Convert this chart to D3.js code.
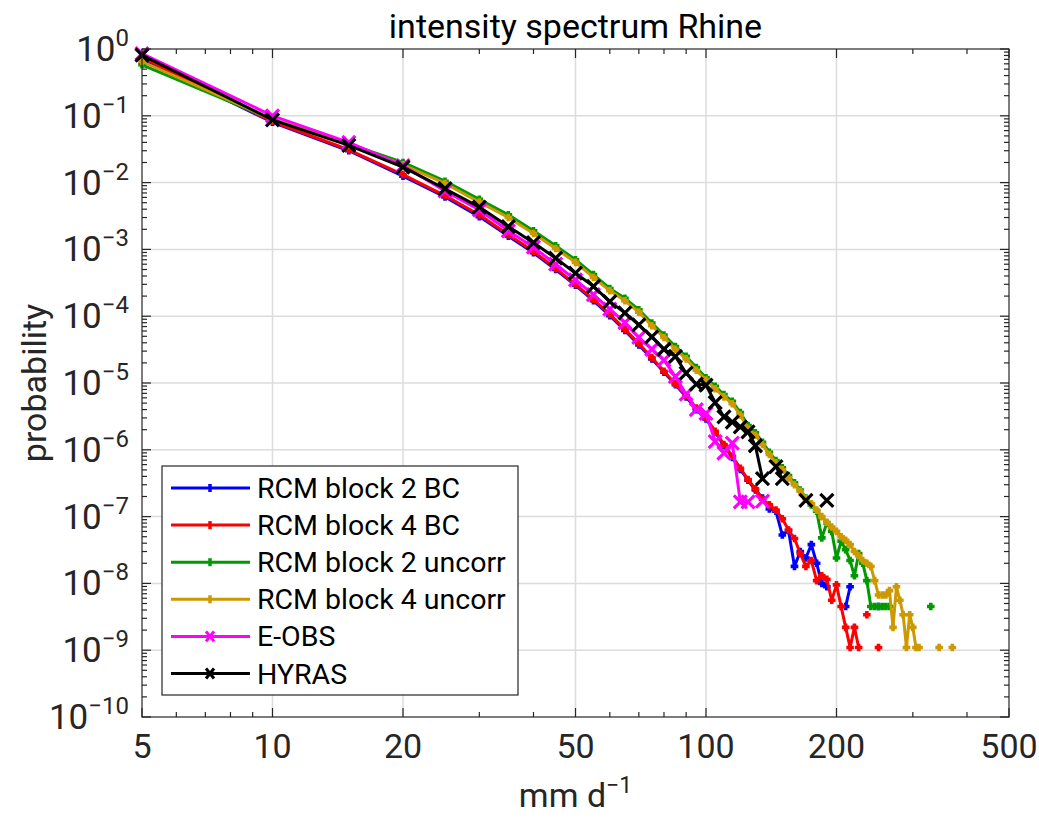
<!DOCTYPE html>
<html>
<head>
<meta charset="utf-8">
<script src="https://d3js.org/d3.v7.min.js"></script>
<style>
  body { margin: 0; background: #fff; }
  text { font-family: Roboto, sans-serif; fill: #262626; }
  .grid line { stroke: #dcdcdc; stroke-width: 1.5; }
</style>
</head>
<body>
<svg width="1039" height="818"></svg>
<script>
// bin centres (mm/d)
const bins = [5,10,15,20,25,30,35,40,45,50,55,60,65,70,75,80,85,90,95,100,
  105,110,115,120,125,130,135,140,145,150,155,160,165,170,175,180,185,190,195,200,
  205,210,215,220,225,230,235,240,245,250,255,260,265,270,275,280,285,290,295,300,
  305,310,315,320,325,330,335,340,345,350,355,360,365,370];

// probabilities per bin, null = no event in bin
const rcmBlock2BC = [0.72,0.080,0.030,0.0125,0.0061,0.0031,0.00158,0.00089,0.00050,0.00029,
  1.71e-4,1.02e-4,6.1e-5,3.7e-5,2.3e-5,1.45e-5,9.4e-6,6.2e-6,4.0e-6,2.9e-6,
  1.85e-6,1.15e-6,7.7e-7,5.1e-7,3.5e-7,2.5e-7,1.9e-7,1.3e-7,1.2e-7,5.3e-8,
  6.2e-8,1.8e-8,3.0e-8,2.4e-8,3.8e-8,2.0e-8,1.0e-8,8.9e-9,null,null,
  null,4.5e-9,8.9e-9,null,null,null,null,null,null,4.5e-9];

const rcmBlock4BC = [0.75,0.082,0.031,0.0132,0.0064,0.0033,0.00166,0.00094,0.00052,0.00030,
  1.79e-4,1.07e-4,6.4e-5,3.9e-5,2.4e-5,1.5e-5,9.7e-6,6.5e-6,4.2e-6,3.0e-6,
  1.9e-6,1.2e-6,8.0e-7,5.3e-7,3.6e-7,2.6e-7,1.8e-7,1.5e-7,1.25e-7,9.3e-8,
  6.3e-8,4.7e-8,2.8e-8,1.8e-8,2.2e-8,1.1e-8,1.3e-8,1.15e-8,5.6e-9,9.5e-9,
  4.5e-9,2.2e-9,1.1e-9,2.2e-9,1.1e-9,null,3.4e-9,null,null,1.1e-9];

const rcmBlock2Uncorr = [0.58,0.088,0.038,0.020,0.0105,0.0056,0.0033,0.0019,0.00113,0.00070,
  4.2e-4,2.6e-4,1.85e-4,1.25e-4,7.9e-5,5.2e-5,3.5e-5,2.5e-5,1.7e-5,1.2e-5,
  8.9e-6,6.7e-6,5.3e-6,3.6e-6,2.3e-6,1.8e-6,1.3e-6,9.2e-7,6.9e-7,5.4e-7,
  4.1e-7,3.2e-7,2.5e-7,1.9e-7,1.5e-7,1.2e-7,4.8e-8,8.0e-8,6.0e-8,2.4e-8,
  4.3e-8,3.2e-8,2.2e-8,1.3e-8,2.8e-8,2.0e-8,1.1e-8,4.5e-9,4.5e-9,4.5e-9,
  4.5e-9,4.5e-9,4.5e-9,null,null,null,null,null,null,null,
  null,null,null,null,null,4.5e-9];

const rcmBlock4Uncorr = [0.65,0.088,0.037,0.0185,0.0097,0.0051,0.0030,0.00173,0.00103,0.00064,
  3.8e-4,2.4e-4,1.7e-4,1.15e-4,7.2e-5,4.8e-5,3.2e-5,2.3e-5,1.55e-5,1.11e-5,
  8.2e-6,6.2e-6,4.9e-6,3.3e-6,2.1e-6,1.65e-6,1.2e-6,8.5e-7,6.4e-7,5.0e-7,
  3.8e-7,3.0e-7,2.4e-7,1.85e-7,1.55e-7,1.25e-7,1.0e-7,8.2e-8,7.0e-8,6.0e-8,
  5.0e-8,4.4e-8,3.8e-8,3.0e-8,2.6e-8,2.2e-8,2.0e-8,1.8e-8,1.1e-8,6.7e-9,
  6.7e-9,6.7e-9,7.8e-9,2.2e-9,8.9e-9,5.6e-9,3.4e-9,1.1e-9,3.4e-9,2.2e-9,
  1.1e-9,1.1e-9,null,null,null,null,null,null,1.1e-9,null,
  null,null,null,1.1e-9];

const eobs = [0.85,0.10,0.040,0.018,0.0075,0.0039,0.0019,0.00108,0.00060,0.00035,
  2.1e-4,1.28e-4,8.0e-5,4.8e-5,3.2e-5,2.2e-5,1.25e-5,6.8e-6,4.0e-6,3.5e-6,
  1.33e-6,8.9e-7,1.26e-6,1.66e-7,1.66e-7,null,1.7e-7];

const hyras = [0.81,0.087,0.036,0.017,0.0081,0.0043,0.0022,0.00126,0.00074,0.00044,
  2.8e-4,1.65e-4,1.12e-4,7.4e-5,4.9e-5,3.2e-5,2.5e-5,1.4e-5,9.6e-6,9.3e-6,
  5.1e-6,3.1e-6,2.6e-6,2.2e-6,1.86e-6,1.15e-6,3.7e-7,null,5.6e-7,3.7e-7,
  null,null,null,1.75e-7,null,null,null,1.75e-7];

const seriesNames = ['RCM block 2 BC','RCM block 4 BC','RCM block 2 uncorr','RCM block 4 uncorr','E-OBS','HYRAS'];
const seriesValues = [rcmBlock2BC, rcmBlock4BC, rcmBlock2Uncorr, rcmBlock4Uncorr, eobs, hyras];
const seriesColors = ['#0000ff','#ff0000','#009900','#cc9900','#ff00ff','#000000'];
const seriesMarkers = ['dot','dot','dot','dot','x','x'];

const xTicks = [5,10,20,50,100,200,500];
const xMinor = [6,7,8,9,30,40,60,70,80,90,300,400];
const yExponents = [0,-1,-2,-3,-4,-5,-6,-7,-8,-9,-10];

const margin = {left: 142, top: 49, right: 30, bottom: 101};
const svg = d3.select('svg');
const W = +svg.attr('width'), H = +svg.attr('height');
const innerW = W - margin.left - margin.right;
const innerH = H - margin.top - margin.bottom;

const x = d3.scaleLog().domain([5, 500]).range([0, innerW]);
const y = d3.scaleLog().domain([1e-10, 1]).range([innerH, 0]);

const g = svg.append('g').attr('transform', `translate(${margin.left},${margin.top})`);

// grid
const grid = g.append('g').attr('class', 'grid');
grid.selectAll('.gx').data(xTicks.slice(1, -1)).enter().append('line')
  .attr('x1', d => x(d)).attr('x2', d => x(d)).attr('y1', 0).attr('y2', innerH);
grid.selectAll('.gy').data(yExponents.slice(1, -1)).enter().append('line')
  .attr('x1', 0).attr('x2', innerW).attr('y1', d => y(Math.pow(10, d))).attr('y2', d => y(Math.pow(10, d)));

// ticks (inward, all four sides)
const yMinor = [];
yExponents.slice(1).forEach(e => { for (let k = 2; k <= 9; k++) yMinor.push(k * Math.pow(10, e)); });
const ticks = g.append('g').attr('stroke', '#262626').attr('stroke-width', 1.2);
xTicks.forEach(v => {
  ticks.append('line').attr('x1', x(v)).attr('x2', x(v)).attr('y1', innerH).attr('y2', innerH - 9);
  ticks.append('line').attr('x1', x(v)).attr('x2', x(v)).attr('y1', 0).attr('y2', 9);
});
xMinor.forEach(v => {
  ticks.append('line').attr('x1', x(v)).attr('x2', x(v)).attr('y1', innerH).attr('y2', innerH - 5);
  ticks.append('line').attr('x1', x(v)).attr('x2', x(v)).attr('y1', 0).attr('y2', 5);
});
yExponents.forEach(e => {
  const yy = y(Math.pow(10, e));
  ticks.append('line').attr('x1', 0).attr('x2', 9).attr('y1', yy).attr('y2', yy);
  ticks.append('line').attr('x1', innerW).attr('x2', innerW - 9).attr('y1', yy).attr('y2', yy);
});
yMinor.forEach(v => {
  const yy = y(v);
  ticks.append('line').attr('x1', 0).attr('x2', 5).attr('y1', yy).attr('y2', yy);
  ticks.append('line').attr('x1', innerW).attr('x2', innerW - 5).attr('y1', yy).attr('y2', yy);
});

// data lines
const line = d3.line()
  .defined(d => d.p != null)
  .x(d => x(d.v))
  .y(d => y(d.p));

seriesValues.forEach((vals, i) => {
  const pts = vals.map((p, j) => ({v: bins[j], p: p}));
  const sg = g.append('g');
  sg.append('path').datum(pts)
    .attr('fill', 'none').attr('stroke', seriesColors[i])
    .attr('stroke-width', 3).attr('stroke-linejoin', 'round')
    .attr('d', line);
  const m = sg.selectAll('.m').data(pts.filter(d => d.p != null)).enter().append('path')
    .attr('transform', d => `translate(${x(d.v)},${y(d.p)})`)
    .attr('fill', 'none').attr('stroke', seriesColors[i]);
  if (seriesMarkers[i] === 'x') {
    m.attr('d', 'M-6.5,-6.5L6.5,6.5M-6.5,6.5L6.5,-6.5').attr('stroke-width', 3.2);
  } else {
    m.attr('d', 'M-3.8,0H3.8M0,-3.8V3.8').attr('stroke-width', 3.6);
  }
});

// box
g.append('rect').attr('width', innerW).attr('height', innerH)
  .attr('fill', 'none').attr('stroke', '#262626').attr('stroke-width', 1.2);

// x tick labels
g.selectAll('.xl').data(xTicks).enter().append('text')
  .attr('x', d => x(d)).attr('y', innerH + 41)
  .attr('text-anchor', 'middle').style('font-size', '34px')
  .text(d => d);

// y tick labels
yExponents.forEach(e => {
  const t = g.append('text')
    .attr('x', -13).attr('y', y(Math.pow(10, e)) + 12)
    .attr('text-anchor', 'end').style('font-size', '35px');
  t.append('tspan').text('10');
  t.append('tspan').attr('dy', -15).style('font-size', '24px')
    .text(e === 0 ? '0' : '\u2212' + Math.abs(e));
});

// title and axis labels
svg.append('text').attr('x', margin.left + innerW / 2).attr('y', 38)
  .attr('text-anchor', 'middle').style('font-size', '34px').style('fill', '#000')
  .text('intensity spectrum Rhine');
const xl = svg.append('text').attr('x', margin.left + innerW / 2).attr('y', 807)
  .attr('text-anchor', 'middle').style('font-size', '34px');
xl.append('tspan').text('mm d');
xl.append('tspan').attr('dy', -14).style('font-size', '23px').text('\u22121');
svg.append('text')
  .attr('transform', `translate(46,${margin.top + innerH / 2}) rotate(-90)`)
  .attr('text-anchor', 'middle').style('font-size', '34px')
  .text('probability');

// legend
const lg = svg.append('g').attr('transform', 'translate(162,466)');
lg.append('rect').attr('width', 356).attr('height', 229)
  .attr('fill', '#fff').attr('stroke', '#262626').attr('stroke-width', 1.2);
seriesNames.forEach((name, i) => {
  const yy = 22 + i * 37.1;
  lg.append('line').attr('x1', 9).attr('x2', 88).attr('y1', yy).attr('y2', yy)
    .attr('stroke', seriesColors[i]).attr('stroke-width', 3);
  const mk = lg.append('path').attr('transform', `translate(48,${yy})`)
    .attr('fill', 'none').attr('stroke', seriesColors[i]);
  if (seriesMarkers[i] === 'x') mk.attr('d', 'M-4,-5L4,5M-4,5L4,-5').attr('stroke-width', 3);
  else mk.attr('d', 'M0,-4V4').attr('stroke-width', 3.5);
  lg.append('text').attr('x', 95).attr('y', yy + 10)
    .style('font-size', '28.5px').style('fill', '#000').text(name);
});
</script>
</body>
</html>
